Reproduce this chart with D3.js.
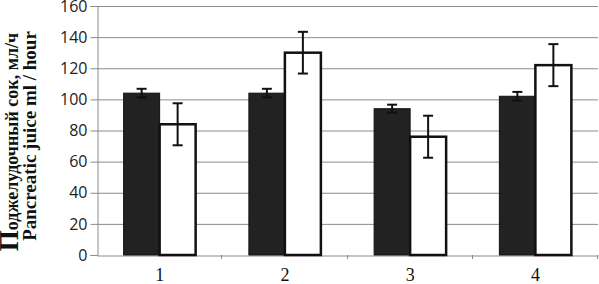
<!DOCTYPE html>
<html><head><meta charset="utf-8">
<script src="https://cdn.jsdelivr.net/npm/d3@7"></script>
<style>body{margin:0;background:#fff}svg{display:block}</style>
</head><body>
<svg id="c" width="599" height="284"></svg>
<script>
const categories = ["1","2","3","4"];
const blackValues = [104, 104, 94, 102];
const blackErrors = [2.8, 2.8, 2.6, 2.8];
const whiteValues = [84, 130, 76, 122];
const whiteErrors = [13.5, 13.4, 13.5, 13.5];
const yTicks = [0,20,40,60,80,100,120,140,160];

const svg = d3.select("#c");
const L = 97, R = 598, T = 6, B = 255;
const x = d3.scaleBand().domain(categories).range([L, R]);
const y = d3.scaleLinear().domain([0,160]).range([B, T]);
const barW = 36;

// gridlines
svg.append("g").selectAll("line").data(yTicks.filter(d=>d>0)).join("line")
  .attr("x1", L).attr("x2", R).attr("y1", d=>y(d)+0.5).attr("y2", d=>y(d)+0.5)
  .attr("stroke", "#8c8c8c").attr("stroke-width", 1);

// y axis
const ya = svg.append("g").attr("transform", `translate(${L+0.5},0)`)
  .call(d3.axisLeft(y).tickValues(yTicks).tickSize(7).tickPadding(3));
ya.select(".domain").attr("stroke", "#8c8c8c");
ya.selectAll(".tick line").attr("stroke", "#8c8c8c");
ya.selectAll(".tick text").attr("font-family", "Open Sans, Liberation Sans, sans-serif")
  .attr("font-size", 16).attr("fill", "#222");

// x axis
const xa = svg.append("g").attr("transform", `translate(0,${B+0.5})`)
  .call(d3.axisBottom(x).tickSize(0).tickPadding(13));
xa.select(".domain").attr("stroke", "#8c8c8c");
xa.selectAll(".tick text").attr("font-family", "Liberation Serif, Times New Roman, serif")
  .attr("font-size", 18).attr("fill", "#111");
// boundary ticks
const bounds = categories.map(c => x(c) + x.bandwidth());
svg.append("g").selectAll("line").data(bounds).join("line")
  .attr("x1", d=>Math.round(d)-0.5).attr("x2", d=>Math.round(d)-0.5)
  .attr("y1", B).attr("y2", B+4).attr("stroke", "#8c8c8c");

// bars
const g = svg.append("g");
categories.forEach((c,i) => {
  const cx = x(c) + x.bandwidth()/2;
  g.append("rect").attr("x", cx-barW).attr("y", y(blackValues[i]))
    .attr("width", barW).attr("height", y(0)-y(blackValues[i]))
    .attr("fill", "#222").attr("stroke", "#111").attr("stroke-width", 1);
  g.append("rect").attr("x", cx).attr("y", y(whiteValues[i]))
    .attr("width", barW).attr("height", y(0)-y(whiteValues[i]))
    .attr("fill", "#fff").attr("stroke", "#111").attr("stroke-width", 2.5);
  const errs = [[cx-barW/2, blackValues[i], blackErrors[i]],[cx+barW/2, whiteValues[i], whiteErrors[i]]];
  errs.forEach(([ex,v,e]) => {
    g.append("line").attr("x1", ex).attr("x2", ex).attr("y1", y(v+e)).attr("y2", y(v-e))
      .attr("stroke", "#111").attr("stroke-width", 2);
    [v+e, v-e].forEach(yy => g.append("line").attr("x1", ex-5).attr("x2", ex+5)
      .attr("y1", y(yy)).attr("y2", y(yy)).attr("stroke", "#111").attr("stroke-width", 2));
  });
});

// y title
const t1 = svg.append("text").attr("transform", "translate(18,142) rotate(-90)")
  .attr("text-anchor", "middle").attr("font-family", "Liberation Serif, Times New Roman, serif")
  .attr("font-weight", "bold").attr("font-size", 18).attr("fill", "#111");
t1.append("tspan").attr("font-size", 27).text("П");
t1.append("tspan").text("оджелудочный сок, мл/ч");
svg.append("text").attr("transform", "translate(36,136) rotate(-90)")
  .attr("text-anchor", "middle").attr("font-family", "Liberation Serif, Times New Roman, serif")
  .attr("font-weight", "bold").attr("font-size", 19).attr("fill", "#111")
  .text("Pancreatic juice ml / hour");
</script>
</body></html>
